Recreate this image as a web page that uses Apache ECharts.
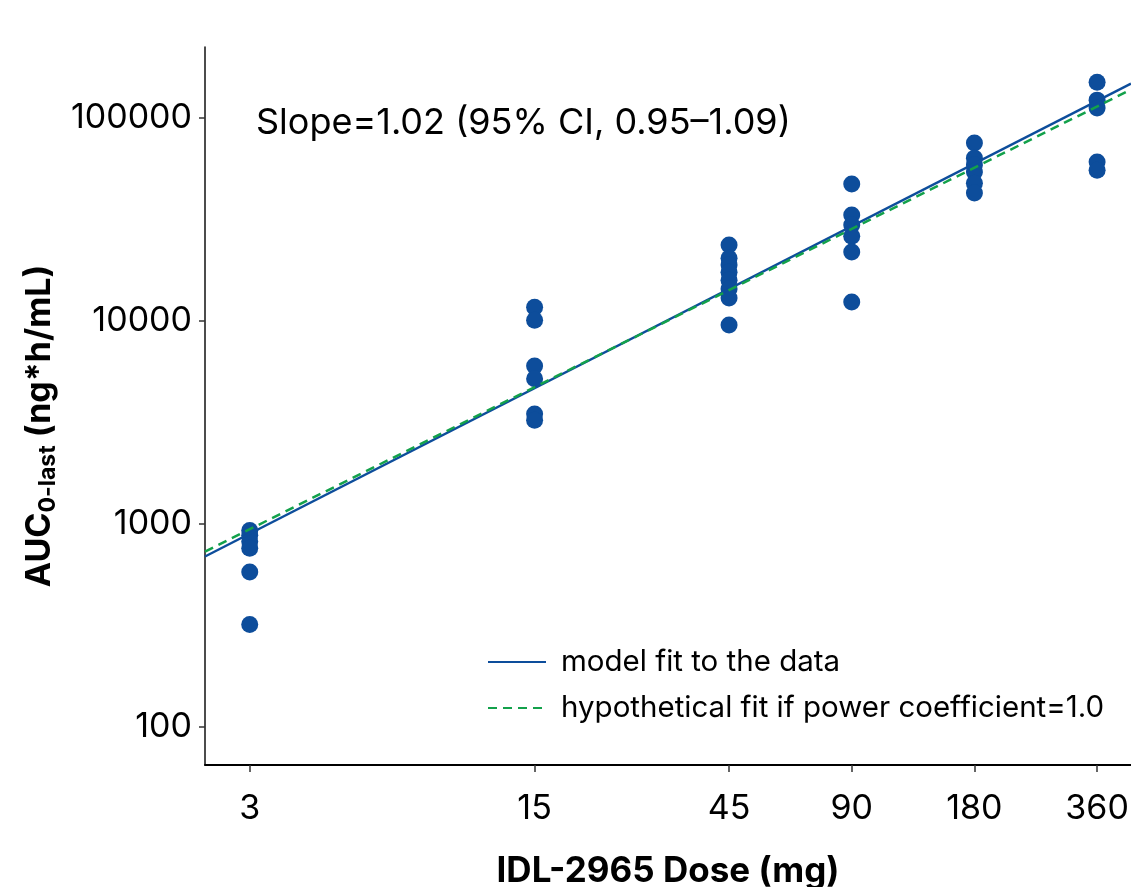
<!DOCTYPE html>
<html>
<head>
<meta charset="utf-8">
<script src="https://cdn.jsdelivr.net/npm/echarts@6/dist/echarts.min.js"></script>
<style>
  html, body { margin: 0; padding: 0; background: #fff; }
  #chart { width: 1131px; height: 887px; }
</style>
</head>
<body>
<div id="chart"></div>
<script>
const doses = [3, 15, 45, 90, 180, 360];
const auc3 = [930, 880, 820, 760, 580, 320];
const auc15 = [11700, 10100, 6000, 5200, 3480, 3250];
const auc45 = [23700, 20400, 18900, 17400, 15900, 14400, 13000, 9560];
const auc90 = [47300, 33300, 29700, 26200, 21900, 12400];
const auc180 = [75300, 63500, 58700, 54200, 47800, 42700];
const auc360 = [150000, 122600, 112000, 60700, 55400];

const xTicks = [3, 15, 45, 90, 180, 360];
const yTicks = [100, 1000, 10000, 100000];

// fit lines, read at the left / right edges of the plot
const fitDose = [2.33, 436];
const modelFit = [692, 147900];
const hypoFit = [732, 138200];

const aucByDose = [auc3, auc15, auc45, auc90, auc180, auc360];
const points = [];
aucByDose.forEach((vals, i) => {
  vals.forEach(v => points.push([doses[i], v]));
});

const chart = echarts.init(document.getElementById('chart'));

const fontFamily = 'Inter, Liberation Sans, Arial, sans-serif';
const blue = '#0d4d9b';
const green = '#13a14b';

const option = {
  animation: false,
  textStyle: { fontFamily: fontFamily },
  title: {
    text: 'Slope=1.02 (95% CI, 0.95–1.09)',
    left: 251,
    top: 100,
    textStyle: { fontSize: 36, fontWeight: 'normal', color: '#000', fontFamily: fontFamily }
  },
  legend: {
    orient: 'vertical',
    left: 482,
    top: 642,
    itemWidth: 58,
    itemHeight: 26,
    itemGap: 16,
    itemStyle: { opacity: 0 },
    textStyle: { fontSize: 29.5, color: '#000', lineHeight: 26, padding: [0, 0, 0, 10] },
    data: ['model fit to the data', 'hypothetical fit if power coefficient=1.0']
  },
  grid: { left: 205, right: 0, top: 47, bottom: 122, outerBoundsMode: 'none' },
  xAxis: {
    type: 'log',
    min: 2.33,
    max: 436,
    name: 'IDL-2965 Dose (mg)',
    nameLocation: 'middle',
    nameGap: 89,
    nameTextStyle: { fontSize: 35, fontWeight: 'bold', color: '#000' },
    axisLine: { lineStyle: { color: '#000', width: 2 } },
    axisTick: { customValues: xTicks, length: 7, lineStyle: { color: '#333', width: 1.5 } },
    axisLabel: {
      customValues: xTicks,
      fontSize: 34,
      color: '#000',
      margin: 27,
      formatter: v => String(Math.round(v))
    },
    splitLine: { show: false },
    minorTick: { show: false }
  },
  yAxis: {
    type: 'log',
    min: 65,
    max: 224000,
    name: '{a|AUC}{s|0-last}{a| (ng*h/mL)}',
    nameLocation: 'middle',
    nameGap: 133,
    nameRotate: 90,
    nameTextStyle: {
      padding: [0, 40, 0, 0],
      rich: {
        a: { fontSize: 34, fontWeight: 'bold', color: '#000', fontFamily: fontFamily, lineHeight: 40 },
        s: { fontSize: 23, fontWeight: 'bold', color: '#000', fontFamily: fontFamily, verticalAlign: 'bottom', lineHeight: 22, padding: [16, 0, 0, 0] }
      }
    },
    axisLine: { show: true, lineStyle: { color: '#111', width: 1.5 } },
    axisTick: { customValues: yTicks, length: 6, lineStyle: { color: '#333', width: 1.5 } },
    axisLabel: {
      customValues: yTicks,
      fontSize: 34,
      color: '#000',
      margin: 13,
      formatter: v => String(Math.round(v))
    },
    splitLine: { show: false },
    minorTick: { show: false }
  },
  series: [
    {
      name: 'model fit to the data',
      type: 'line',
      data: fitDose.map((d, i) => [d, modelFit[i]]),
      symbol: 'none',
      lineStyle: { color: blue, width: 2.5 },
      itemStyle: { color: blue },
      z: 3
    },
    {
      name: 'hypothetical fit if power coefficient=1.0',
      type: 'line',
      data: fitDose.map((d, i) => [d, hypoFit[i]]),
      symbol: 'none',
      lineStyle: { color: green, width: 2.5, type: [9, 6] },
      itemStyle: { color: green },
      z: 3
    },
    {
      name: 'observed',
      type: 'scatter',
      data: points,
      symbol: 'circle',
      symbolSize: 17,
      itemStyle: { color: blue, opacity: 1 },
      z: 2
    }
  ]
};

chart.setOption(option);
</script>
</body>
</html>
